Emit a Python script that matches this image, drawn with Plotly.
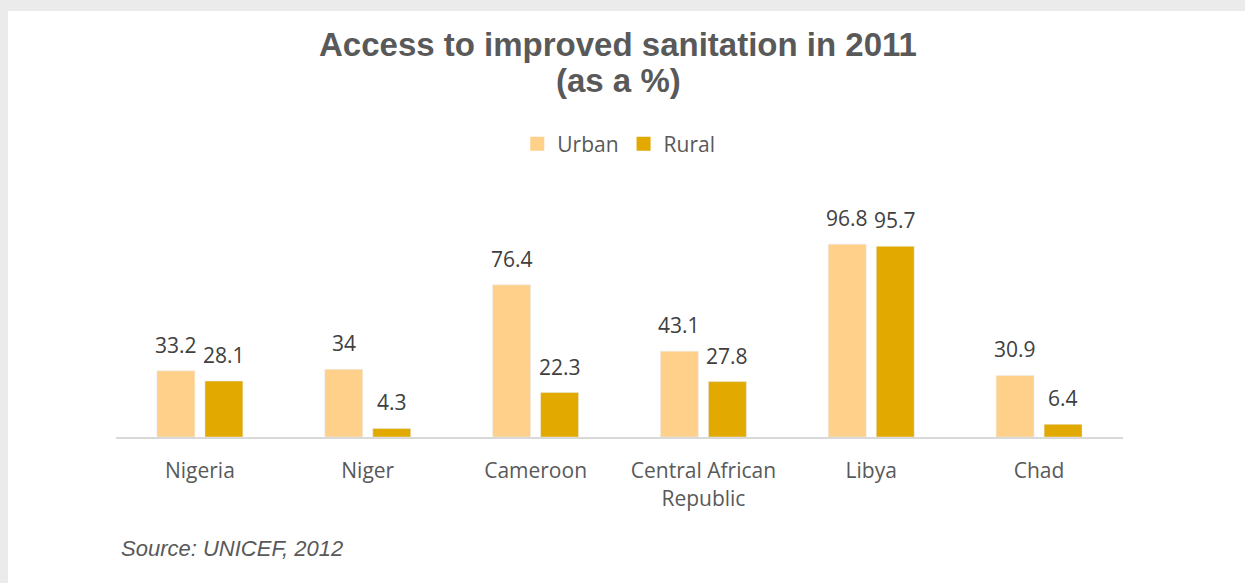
import plotly.graph_objects as go

# data
countries = ["Nigeria", "Niger", "Cameroon", "Central African<br>Republic", "Libya", "Chad"]
urban = [33.2, 34, 76.4, 43.1, 96.8, 30.9]
rural = [28.1, 4.3, 22.3, 27.8, 95.7, 6.4]
series = [("Urban", urban, "#ffd089"), ("Rural", rural, "#e2a900")]

GREY_TEXT = "#595959"
DARK_TEXT = "#404040"

W, H = 1245, 583
margin = dict(l=116, r=122, t=190, b=146)
plot_w = W - margin["l"] - margin["r"]
plot_h = H - margin["t"] - margin["b"]
y_max = 124
bargap = 0.428


def px_to_paper(px, py):
    return (px - margin["l"]) / plot_w, (H - margin["b"] - py) / plot_h


fig = go.Figure()
for name, vals, color in series:
    fig.add_trace(go.Bar(x=countries, y=vals, name=name, marker_color=color, showlegend=False))
# legend entries with bigger square swatches
for name, vals, color in series:
    fig.add_trace(go.Scatter(x=[None], y=[None], mode="markers", name=name,
                             marker=dict(symbol="square", size=14, color=color)))

# value labels, shifted onto each bar of the group
slot = plot_w / len(countries) * (1 - bargap) / 2
for (name, vals, color), shift in zip(series, (-slot / 2, slot / 2)):
    for c, v in zip(countries, vals):
        fig.add_annotation(
            x=c, y=v, text=str(v), showarrow=False, xshift=shift, yshift=10,
            yanchor="bottom", font=dict(family="Open Sans", size=21, color=DARK_TEXT),
        )

# title as two annotations to keep the tighter line spacing
title_font = dict(family="Liberation Sans, Arial", size=33, color=GREY_TEXT)
for text, py in (("Access to improved sanitation in 2011", 44), ("(as a %)", 80)):
    tx, ty = px_to_paper(618, py)
    fig.add_annotation(xref="paper", yref="paper", x=tx, y=ty, xanchor="center",
                       yanchor="middle", text=f"<b>{text}</b>", showarrow=False, font=title_font)

# source note
sx, sy = px_to_paper(119, 548)
fig.add_annotation(
    xref="paper", yref="paper", x=sx, y=sy, xanchor="left", yanchor="middle",
    text="<i>Source: UNICEF, 2012</i>", showarrow=False,
    font=dict(family="Liberation Sans, Arial", size=22, color=GREY_TEXT),
)

# white card on grey background
x0, y0 = px_to_paper(8, 11)
x1, y1 = px_to_paper(W + 5, H + 5)
fig.add_shape(type="rect", xref="paper", yref="paper", x0=x0, y0=y1, x1=x1, y1=y0,
              fillcolor="white", line_width=0, layer="below")

fig.update_layout(
    width=W, height=H, margin=margin,
    paper_bgcolor="#ebebeb", plot_bgcolor="white",
    barmode="group", bargap=bargap, bargroupgap=0.21,
    legend=dict(
        orientation="h", xref="container", yref="container",
        x=0.497, xanchor="center", y=1 - 144 / H, yanchor="middle",
        font=dict(family="Open Sans", size=21, color=GREY_TEXT),
        bgcolor="rgba(0,0,0,0)", itemwidth=30,
    ),
    xaxis=dict(
        showline=True, linecolor="#d9d9d9", linewidth=2,
        ticks="outside", ticklen=14, tickcolor="rgba(0,0,0,0)",
        tickfont=dict(family="Open Sans", size=21, color=GREY_TEXT),
        fixedrange=True,
    ),
    yaxis=dict(range=[0, y_max], visible=False, showgrid=False, zeroline=False, fixedrange=True),
)

fig.write_html(
    "out.html",
    config={"displayModeBar": False},
    post_script="document.body.style.margin='0';document.body.style.background='#ebebeb';",
)
